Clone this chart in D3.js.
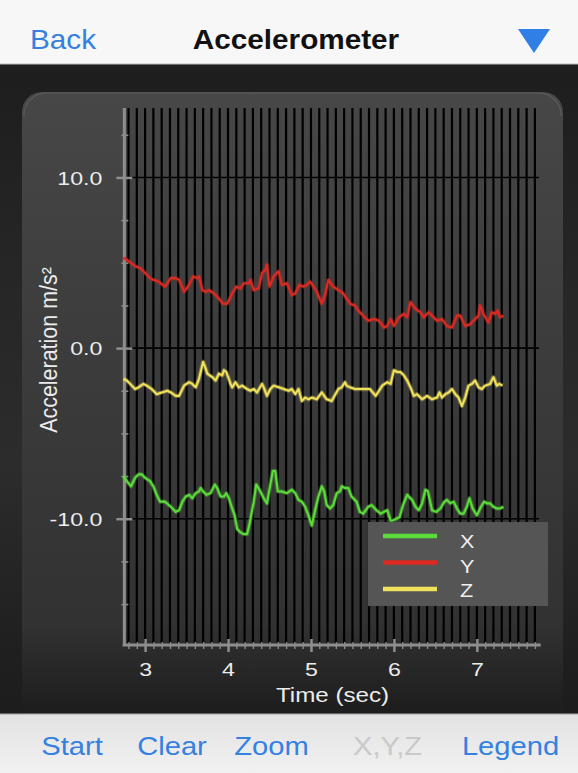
<!DOCTYPE html>
<html><head><meta charset="utf-8">
<script src="https://cdn.jsdelivr.net/npm/d3@7"></script>
<style>html,body{margin:0;padding:0;background:#1c1c1c;} svg{display:block;}</style>
</head><body>
<svg id="c" width="578" height="773"></svg>
<script>
// ---------- data ----------
const seriesNames = ["X", "Y", "Z"];
const seriesColors = ["#5bdc3a", "#dc2a22", "#f0e15c"];

const xTimes = [2.74,2.78,2.83,2.88,2.92,2.96,3.00,3.06,3.10,3.14,3.18,3.24,3.31,3.37,3.41,3.45,3.49,3.53,3.57,3.61,3.65,3.67,3.70,3.74,3.79,3.84,3.87,3.91,3.95,3.98,4.01,4.05,4.08,4.11,4.15,4.19,4.23,4.26,4.31,4.34,4.38,4.43,4.47,4.51,4.54,4.57,4.60,4.65,4.71,4.77,4.81,4.85,4.89,4.93,4.97,5.01,5.05,5.09,5.13,5.16,5.19,5.23,5.27,5.31,5.35,5.37,5.41,5.45,5.49,5.55,5.59,5.63,5.69,5.73,5.79,5.84,5.88,5.92,5.96,5.99,6.03,6.07,6.11,6.16,6.22,6.26,6.30,6.34,6.38,6.41,6.46,6.51,6.56,6.61,6.64,6.68,6.72,6.76,6.80,6.84,6.88,6.91,6.95,7.00,7.05,7.09,7.12,7.16,7.20,7.24,7.28,7.32];
const xValues = [-7.5,-7.8,-8.1,-7.6,-7.4,-7.4,-7.6,-7.8,-8.1,-8.6,-9.0,-9.0,-9.3,-9.6,-9.5,-9.0,-8.7,-8.6,-8.8,-8.5,-8.4,-8.2,-8.4,-8.6,-8.5,-8.0,-8.2,-8.7,-8.7,-8.5,-8.8,-9.4,-9.8,-10.6,-10.8,-10.9,-10.9,-10.3,-9.0,-8.0,-8.3,-8.8,-9.1,-8.0,-7.2,-7.2,-8.4,-8.4,-8.5,-8.3,-8.5,-8.9,-9.0,-9.3,-9.8,-10.4,-9.5,-8.7,-8.1,-8.4,-9.2,-9.4,-9.2,-8.5,-8.4,-8.1,-8.2,-8.2,-8.7,-9.0,-9.6,-9.7,-9.3,-9.2,-9.5,-9.7,-9.6,-9.5,-10.1,-10.1,-10.0,-9.9,-9.2,-8.6,-8.9,-9.3,-9.5,-9.1,-8.3,-8.4,-9.5,-9.6,-9.4,-9.0,-8.9,-9.1,-9.0,-9.4,-9.7,-9.7,-9.3,-8.8,-9.4,-9.8,-9.3,-9.0,-9.1,-9.1,-9.3,-9.4,-9.4,-9.3];

const yTimes = [2.74,2.80,2.88,2.94,3.00,3.06,3.10,3.16,3.24,3.31,3.37,3.41,3.47,3.53,3.58,3.63,3.65,3.69,3.73,3.77,3.83,3.89,3.94,3.99,4.05,4.10,4.15,4.19,4.25,4.27,4.31,4.37,4.41,4.45,4.47,4.50,4.55,4.61,4.65,4.71,4.77,4.81,4.86,4.91,4.95,4.99,5.03,5.07,5.13,5.17,5.21,5.27,5.33,5.39,5.43,5.47,5.53,5.57,5.63,5.69,5.76,5.82,5.88,5.92,5.96,6.00,6.06,6.12,6.16,6.20,6.26,6.32,6.36,6.42,6.46,6.52,6.58,6.64,6.70,6.76,6.80,6.86,6.92,6.98,7.02,7.04,7.08,7.14,7.18,7.22,7.25,7.28,7.32];
const yValues = [5.3,5.1,4.8,4.7,4.4,4.1,4.0,3.9,3.6,4.1,4.1,4.0,3.3,3.7,4.2,4.1,4.2,3.4,3.3,3.4,3.2,2.9,2.6,2.6,3.2,3.6,3.5,3.8,3.8,4.0,3.4,3.5,4.4,4.6,4.9,3.6,4.2,4.5,3.7,3.8,3.1,3.2,3.7,3.6,3.7,3.9,3.6,3.3,2.6,3.1,4.0,3.6,3.4,3.2,2.9,2.6,2.5,2.2,1.9,1.6,1.7,1.6,1.2,1.3,1.7,1.3,1.8,2.0,1.8,2.7,2.3,2.1,1.8,2.1,1.9,1.6,1.7,1.3,1.2,1.9,1.9,1.3,1.4,1.7,1.9,2.5,2.0,1.5,2.1,2.0,2.2,1.8,1.9];

const zTimes = [2.74,2.78,2.84,2.88,2.92,2.98,3.02,3.08,3.14,3.20,3.27,3.31,3.37,3.41,3.47,3.53,3.57,3.61,3.65,3.67,3.70,3.73,3.75,3.81,3.85,3.89,3.93,3.95,3.98,4.03,4.05,4.09,4.13,4.17,4.23,4.27,4.31,4.35,4.41,4.43,4.47,4.51,4.55,4.61,4.67,4.73,4.77,4.81,4.85,4.89,4.93,4.97,5.01,5.07,5.13,5.19,5.25,5.33,5.37,5.41,5.43,5.47,5.53,5.59,5.65,5.71,5.78,5.82,5.86,5.92,5.96,6.00,6.04,6.08,6.12,6.16,6.20,6.24,6.28,6.34,6.40,6.46,6.52,6.55,6.58,6.62,6.66,6.70,6.74,6.78,6.82,6.86,6.90,6.94,6.98,7.02,7.06,7.10,7.16,7.20,7.24,7.27,7.31];
const zValues = [-1.8,-1.9,-2.2,-2.4,-2.3,-2.1,-2.2,-2.4,-2.7,-2.6,-2.5,-2.6,-2.8,-2.8,-2.2,-2.0,-2.1,-2.3,-1.8,-1.4,-0.8,-1.2,-1.5,-1.7,-1.9,-1.5,-1.6,-1.3,-1.4,-2.1,-2.3,-2.0,-2.3,-2.2,-2.4,-2.5,-2.4,-2.6,-2.1,-2.3,-2.8,-2.4,-2.2,-2.3,-2.4,-2.5,-2.4,-2.7,-2.4,-3.1,-2.9,-3.0,-2.9,-3.0,-2.6,-3.0,-3.1,-2.4,-2.3,-2.0,-2.2,-2.3,-2.4,-2.4,-2.4,-2.4,-2.8,-2.5,-2.2,-2.0,-2.1,-1.3,-1.4,-1.4,-1.6,-1.9,-2.3,-2.8,-2.7,-3.0,-2.8,-3.0,-2.9,-2.6,-2.9,-2.7,-2.6,-2.4,-2.7,-2.9,-3.4,-2.9,-2.2,-2.1,-1.9,-2.3,-2.4,-2.2,-2.1,-1.7,-2.2,-2.1,-2.2];

const xTickValues = [3, 4, 5, 6, 7];
const xTickLabels = ["3", "4", "5", "6", "7"];
const yTickValues = [10, 0, -10];
const yTickLabels = ["10.0", "0.0", "-10.0"];
const toolbarLabels = ["Start", "Clear", "Zoom", "X,Y,Z", "Legend"];
const titleText = "Accelerometer";
const backText = "Back";
const xAxisTitle = "Time (sec)";
const yAxisTitle = "Acceleration m/s²";

// ---------- drawing ----------
const FONT = "'Liberation Sans', Arial, Helvetica, sans-serif";
const svg = d3.select("#c");
const defs = svg.append("defs");

function vGrad(id, stops) {
  const g = defs.append("linearGradient").attr("id", id)
    .attr("x1", 0).attr("y1", 0).attr("x2", 0).attr("y2", 1);
  stops.forEach(s => g.append("stop").attr("offset", s[0]).attr("stop-color", s[1]));
}
vGrad("bgGrad", [[0, "#1b1b1b"], [0.35, "#262626"], [0.6, "#2c2c2c"], [0.85, "#1f1f1f"], [1, "#1b1b1b"]]);
vGrad("panelGrad", [[0, "#474747"], [0.35, "#3d3d3d"], [0.8, "#323232"], [0.88, "#262626"], [0.93, "#1e1e1e"], [1, "#1c1c1c"]]);
vGrad("toolGrad", [[0, "#e2e2e2"], [1, "#f1f1f1"]]);

function stext(parent, str, x, y, size, sx, opts) {
  opts = opts || {};
  return parent.append("text")
    .attr("transform", `translate(${x},${y}) scale(${sx},1)`)
    .attr("text-anchor", opts.anchor || "middle")
    .attr("font-family", FONT)
    .attr("font-size", size)
    .attr("font-weight", opts.weight || "normal")
    .attr("fill", opts.fill || "#eee")
    .text(str);
}

// dark background
svg.append("rect").attr("x", 0).attr("y", 0).attr("width", 578).attr("height", 773).attr("fill", "url(#bgGrad)");
// panel
svg.append("rect").attr("x", 22).attr("y", 92).attr("width", 541).attr("height", 662)
  .attr("rx", 20).attr("fill", "url(#panelGrad)");
svg.append("path").attr("d", "M24,116 A22,22 0 0 1 46,93 L539,93 A22,22 0 0 1 561,116")
  .attr("fill", "none").attr("stroke", "#585858").attr("stroke-width", 1.5);

// scales
const x = d3.scaleLinear().domain([2.73, 7.77]).range([122.7, 540.7]);
const y = d3.scaleLinear().domain([-17.4, 14.07]).range([645, 108]);
const plotTop = y(14.07), plotBottom = y(-17.4);

// vertical black grid (every 0.1 s)
const gridT = d3.range(28, 78).map(d => d / 10);
svg.append("g").selectAll("line").data(gridT).join("line")
  .attr("x1", d => x(d)).attr("x2", d => x(d))
  .attr("y1", plotTop).attr("y2", plotBottom)
  .attr("stroke", "#000").attr("stroke-width", 2.2);

// horizontal grid at labelled values
svg.append("g").selectAll("line").data(yTickValues).join("line")
  .attr("x1", x(2.75)).attr("x2", x(7.75))
  .attr("y1", d => y(d)).attr("y2", d => y(d))
  .attr("stroke", "#000").attr("stroke-width", 1.6);

// y axis
const yAxisX = x(2.75);
const yMinor = d3.range(-15, 14, 2.5).filter(v => v % 10 !== 0);
const yAxisMinorG = svg.append("g").attr("transform", `translate(${yAxisX},0)`)
  .call(d3.axisLeft(y).tickValues(yMinor).tickSize(0).tickFormat(""));
yAxisMinorG.select(".domain").remove();
yAxisMinorG.selectAll(".tick line").attr("x1", -3).attr("x2", 4).attr("stroke", "#8a8a8a").attr("stroke-width", 1.6);

const yAxisG = svg.append("g").attr("transform", `translate(${yAxisX},0)`)
  .call(d3.axisLeft(y).tickValues(yTickValues).tickSize(0).tickPadding(21)
    .tickFormat((d, i) => yTickLabels[i]));
yAxisG.select(".domain").attr("d", `M0,${plotTop}V${plotBottom + 1}`).attr("stroke", "#8e8e8e").attr("stroke-width", 3);
yAxisG.selectAll(".tick line").attr("x1", -8).attr("x2", 8).attr("stroke", "#8e8e8e").attr("stroke-width", 2.5);
yAxisG.selectAll(".tick text")
  .attr("font-family", FONT).attr("font-size", 19).attr("fill", "#ececec")
  .attr("x", -18).attr("dy", "0.36em")
  .attr("transform", "scale(1.22,1)");

// x axis
const xAxisY = plotBottom;
const xMinor = d3.range(28, 78).map(d => d / 10).filter(v => Math.abs(v - Math.round(v)) > 1e-6);
const xAxisMinorG = svg.append("g").attr("transform", `translate(0,${xAxisY})`)
  .call(d3.axisBottom(x).tickValues(xMinor).tickSize(0).tickFormat(""));
xAxisMinorG.select(".domain").remove();
xAxisMinorG.selectAll(".tick line").attr("y1", -3).attr("y2", 4).attr("stroke", "#8a8a8a").attr("stroke-width", 1.4);

const xAxisG = svg.append("g").attr("transform", `translate(0,${xAxisY})`)
  .call(d3.axisBottom(x).tickValues(xTickValues).tickSize(0)
    .tickFormat((d, i) => xTickLabels[i]));
xAxisG.select(".domain").attr("d", `M${x(2.73)},0H${x(7.77)}`).attr("stroke", "#8e8e8e").attr("stroke-width", 3);
xAxisG.selectAll(".tick line").attr("y1", -6).attr("y2", 7).attr("stroke", "#8e8e8e").attr("stroke-width", 2.5);
xAxisG.selectAll(".tick text")
  .attr("font-family", FONT).attr("font-size", 19).attr("fill", "#ececec")
  .attr("y", 31).attr("dy", 0)
  .attr("transform", "scale(1.22,1)");

// axis titles
stext(svg, xAxisTitle, (x(2.75) + x(7.77)) / 2, 702, 19.5, 1.24, { fill: "#ececec" });
svg.append("text")
  .attr("transform", `translate(57,350) rotate(-90) scale(1.1,1.18)`)
  .attr("text-anchor", "middle").attr("font-family", FONT).attr("font-size", 19.5)
  .attr("fill", "#ececec").text(yAxisTitle);

// data lines
const series = [
  { name: seriesNames[0], color: seriesColors[0], pts: d3.zip(xTimes, xValues) },
  { name: seriesNames[1], color: seriesColors[1], pts: d3.zip(yTimes, yValues) },
  { name: seriesNames[2], color: seriesColors[2], pts: d3.zip(zTimes, zValues) }
];
const line = d3.line().x(d => x(d[0])).y(d => y(d[1]));
const lineG = svg.append("g");
series.forEach(s => {
  lineG.append("path").attr("d", line(s.pts)).attr("fill", "none")
    .attr("stroke", s.color).attr("stroke-opacity", 0.35).attr("stroke-width", 4.2)
    .attr("stroke-linejoin", "round");
  lineG.append("path").attr("d", line(s.pts)).attr("fill", "none")
    .attr("stroke", s.color).attr("stroke-width", 2.1)
    .attr("stroke-linejoin", "round");
});

// legend
const lg = svg.append("g").attr("transform", "translate(368,522)");
lg.append("rect").attr("width", 180).attr("height", 84).attr("fill", "#555555");
series.forEach((s, i) => {
  lg.append("line").attr("x1", 15).attr("x2", 69).attr("y1", 14 + i * 26.5).attr("y2", 14 + i * 26.5)
    .attr("stroke", s.color).attr("stroke-width", 4.5);
  stext(lg, s.name, 92, 26 + i * 24.5, 18, 1.2, { anchor: "start", fill: "#f0f0f0" });
});

// header
svg.append("rect").attr("x", 0).attr("y", 0).attr("width", 578).attr("height", 64).attr("fill", "#f7f7f7");
svg.append("line").attr("x1", 0).attr("x2", 578).attr("y1", 64).attr("y2", 64).attr("stroke", "#bdbdbd").attr("stroke-width", 1);
stext(svg, backText, 30, 49, 27, 1.1, { anchor: "start", fill: "#3481e0" });
stext(svg, titleText, 296, 49, 27.5, 1.08, { weight: "bold", fill: "#111" });
svg.append("path").attr("d", "M518,29 L550,29 L534,53 Z").attr("fill", "#2f7fe6");

// toolbar
svg.append("rect").attr("x", 0).attr("y", 714).attr("width", 578).attr("height", 59).attr("fill", "url(#toolGrad)");
svg.append("line").attr("x1", 0).attr("x2", 578).attr("y1", 714).attr("y2", 714).attr("stroke", "#a8a8a8");
const toolX = [72, 172, 271.5, 387.5, 510.5];
toolbarLabels.forEach((t, i) => {
  stext(svg, t, toolX[i], 755, 26.5, 1.1, { fill: i === 3 ? "#c9c9c9" : "#3481e0" });
});
</script>
</body></html>
